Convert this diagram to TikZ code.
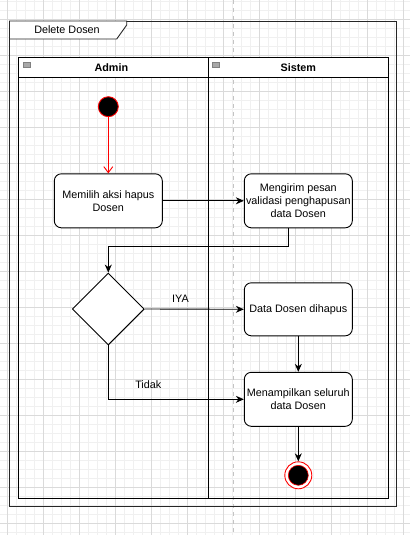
\documentclass[tikz,border=0pt]{standalone}
\usepackage{fontspec}
\setmainfont{Liberation Sans}
\usetikzlibrary{shapes.geometric,arrows.meta}
\definecolor{gridminor}{HTML}{F0F0F0}
\definecolor{gridmajor}{HTML}{DADADA}
\definecolor{pagebreak}{HTML}{C4C4C4}
\definecolor{startred}{HTML}{FF0000}
\definecolor{iconfill}{HTML}{A8A8A8}

\begin{document}
\begin{tikzpicture}[x=1pt,y=-1pt,%
  txt/.style={font=\fontsize{10.8}{12.8}\selectfont, align=center},%
  aksi/.style={draw, line width=0.9pt, rounded corners=7pt, fill=white, minimum width=108pt, minimum height=54pt, inner sep=1pt, txt},%
  flow/.style={draw, line width=0.9pt, -{Stealth[length=8pt,width=7pt]}},%
  redflow/.style={draw=startred, line width=0.9pt, -{Straight Barb[length=6pt,width=9pt]}},%
  lane/.style={draw, line width=0.9pt},%
  laneicon/.style={draw=gray, line width=0.5pt, fill=iconfill}]%
\useasboundingbox (0,0) rectangle (410,535);%
\fill[white] (0,0) rectangle (410,535);%
% grid
\foreach \gx in {7.3,16.3,...,410} \draw[gridminor, line width=0.8pt] (\gx,0) -- (\gx,535);%
\foreach \gy in {1.3,10.3,...,535} \draw[gridminor, line width=0.8pt] (0,\gy) -- (410,\gy);%
\foreach \gx in {7.3,43.3,...,410} \draw[gridmajor, line width=0.8pt] (\gx,0) -- (\gx,535);%
\foreach \gy in {19.3,55.3,...,535} \draw[gridmajor, line width=0.8pt] (0,\gy) -- (410,\gy);%
\draw[pagebreak, line width=1pt, dash pattern=on 4pt off 4pt] (233.3,0) -- (233.3,535);%
% frame
\draw[line width=0.9pt, draw=black!85] (9.5,21) rectangle (396.7,506.7);%
\draw[line width=0.9pt, fill=white, draw=black!85] (9.5,21) -- (126.7,21) -- (126.7,25) -- (116.7,39) -- (9.5,39) -- cycle;%
\node[txt] (judul) at (67,29.5) {Delete Dosen};%
% pool
\fill[white] (18.3,57.3) rectangle (388.7,77.7);%
\draw[lane] (18.3,57.3) rectangle (388.7,498.3);%
\draw[lane] (18.3,77.7) -- (388.7,77.7);%
\draw[lane] (208.3,57.3) -- (208.3,498.3);%
\draw[laneicon] (23,62.5) rectangle (30,67.5);%
\draw[laneicon] (212,62.5) rectangle (219,67.5);%
\node[txt, font=\fontsize{10.8}{12.8}\selectfont\bfseries] (admin) at (111.3,67.5) {Admin};%
\node[txt, font=\fontsize{10.8}{12.8}\selectfont\bfseries] (sistem) at (298.3,67.5) {Sistem};%
% nodes
\node[circle, draw=startred, line width=0.9pt, fill=black, minimum size=20pt, inner sep=0pt] (mulai) at (108.3,106.7) {};%
\node[aksi] (pilih) at (108.3,200.8) {Memilih aksi hapus\\Dosen};%
\node[aksi] (validasi) at (298.3,200.8) {Mengirim pesan\\validasi penghapusan\\data Dosen};%
\node[diamond, draw, line width=0.9pt, fill=white, minimum width=72pt, minimum height=72pt, inner sep=0pt] (cek) at (108.3,309) {};%
\node[aksi, minimum height=53pt] (hapus) at (298.3,309.3) {Data Dosen dihapus};%
\node[aksi] (tampil) at (298.3,399.3) {Menampilkan seluruh\\data Dosen};%
\node[circle, draw=startred, line width=0.9pt, fill=white, minimum size=27pt, inner sep=0pt] (selesai) at (298.3,475.3) {};%
\node[circle, draw=startred, line width=0.6pt, fill=black, minimum size=20pt, inner sep=0pt] (selesaidalam) at (selesai.center) {};%
% edges
\draw[redflow] (mulai) -- (pilih);%
\draw[flow] (pilih) -- (validasi);%
\draw[flow] ([xshift=-10pt]validasi.south) -- ++(0,18) -| (cek.north);%
\draw[flow] (cek.east) -- (hapus.west);%
\node[txt] (iya) at (180.5,299) {IYA};%
\draw[flow] (hapus) -- (tampil);%
\draw[flow] (cek.south) |- (tampil.west);%
\node[txt] (tidak) at (148.3,385) {Tidak};%
\draw[flow] (tampil) -- (selesai);%
\end{tikzpicture}
\end{document}
